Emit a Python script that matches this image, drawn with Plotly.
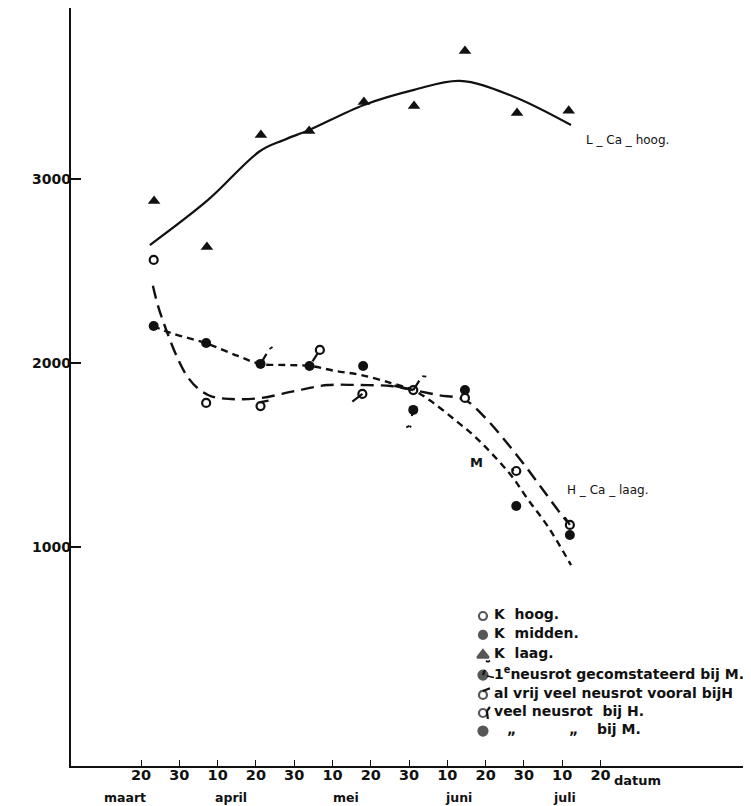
import plotly.graph_objects as go

# ---------------- data (x in days after 20 maart) ----------------
hoog_x = [3.3, 17.0, 31.2, 46.7, 57.8, 71.1, 84.6, 98.0, 112.0]
hoog_y = [2560, 1783, 1766, 2071, 1832, 1853, 1810, 1413, 1120]
midden_x = [3.3, 17.0, 31.2, 44.0, 58.0, 71.1, 84.6, 98.0, 112.0]
midden_y = [2201, 2109, 1995, 1984, 1984, 1745, 1853, 1223, 1065]
laag_x = [3.4, 17.2, 31.3, 43.9, 58.2, 71.3, 84.6, 98.2, 111.7]
laag_y = [2880, 2630, 3239, 3261, 3418, 3397, 3696, 3359, 3370]

# hand-drawn curves
L_curve_x = [2.3, 17.5, 31.1, 37.3, 43.9, 58.2, 71.3, 83.3, 96.9, 112.3]
L_curve_y = [2641, 2886, 3152, 3212, 3266, 3402, 3484, 3533, 3451, 3293]
H_curve_x = [3.1, 5.2, 12.3, 17.5, 23.5, 31.3, 40.2, 48.8, 57.4, 65.3, 71.0, 77.5, 84.6, 90.0, 95.0, 100.0, 105.0, 110.0, 112.8]
H_curve_y = [2420, 2260, 1920, 1826, 1804, 1810, 1848, 1880, 1880, 1875, 1853, 1826, 1799, 1700, 1580, 1450, 1310, 1170, 1100]
M_curve_x = [3.1, 7.8, 16.7, 25.3, 31.1, 37.6, 44.1, 50.7, 57.4, 65.3, 71.0, 75.7, 82.0, 87.2, 92.4, 97.0, 101.0, 106.3, 112.3]
M_curve_y = [2201, 2163, 2109, 2038, 1995, 1989, 1984, 1957, 1935, 1891, 1853, 1793, 1690, 1600, 1490, 1380, 1260, 1110, 902]

tick_days = [0, 10, 20, 30, 40, 50, 60, 70, 80, 90, 100, 110, 120]
tick_text = ["20", "30", "10", "20", "30", "10", "20", "30", "10", "20", "30", "10", "20"]
month_names = ["maart", "april", "mei", "juni", "juli"]
month_x = [-4.2, 23.5, 53.5, 82.8, 110.7]
y_ticks = [1000, 2000, 3000]

legend_labels = ["K  hoog.", "K  midden.", "K  laag.",
                 "1<sup>e</sup>neusrot gecomstateerd bij M.",
                 "al vrij veel neusrot vooral bijH",
                 "veel neusrot  bij H."]
legend_x = 89.3
legend_y = [625, 522, 413, 304, 196, 98, 0]

FONT = "DejaVu Sans"
INK = "#111111"

fig = go.Figure()

# curves
fig.add_trace(go.Scatter(x=L_curve_x, y=L_curve_y, mode="lines", line_shape="spline",
                         line=dict(color=INK, width=2.2), hoverinfo="skip"))
fig.add_trace(go.Scatter(x=H_curve_x, y=H_curve_y, mode="lines", line_shape="spline",
                         line=dict(color=INK, width=2.4, dash="13px,7px"), hoverinfo="skip"))
fig.add_trace(go.Scatter(x=M_curve_x, y=M_curve_y, mode="lines", line_shape="spline",
                         line=dict(color=INK, width=2.4, dash="7px,5px"), hoverinfo="skip"))

# data points
fig.add_trace(go.Scatter(x=laag_x, y=laag_y, mode="markers",
                         marker=dict(symbol="triangle-up", size=11, color=INK)))
fig.add_trace(go.Scatter(x=midden_x, y=midden_y, mode="markers",
                         marker=dict(symbol="circle", size=10, color=INK)))
fig.add_trace(go.Scatter(x=hoog_x, y=hoog_y, mode="markers",
                         marker=dict(symbol="circle", size=8, color="white",
                                     line=dict(color=INK, width=2.2))))

# legend markers
fig.add_trace(go.Scatter(x=[legend_x] * 7, y=legend_y, mode="markers",
                         marker=dict(symbol=["circle-open", "circle", "triangle-up", "circle",
                                             "circle", "circle", "circle"],
                                     size=[8, 8, 10, 9, 8, 8, 9],
                                     color=[INK, INK, INK, INK, "white", "white", INK],
                                     line=dict(color=INK, width=2.2))))

ann = []
def tail(x, y, ax, ay, xs=0, ys=0, w=2.2):
    ann.append(dict(x=x, y=y, xref="x", yref="y", ax=ax, ay=ay, xshift=xs, yshift=ys,
                    showarrow=True, arrowhead=0, arrowwidth=w, arrowcolor=INK, text=" "))

# neusrot marks on the data
tail(midden_x[2], midden_y[2], 9, -15)
tail(midden_x[2], midden_y[2], -3, -6, xs=9, ys=15, w=1.8)
tail(midden_x[2], midden_y[2], 6, -4, xs=9, ys=15, w=1.8)
tail(hoog_x[2], hoog_y[2], 11, -2, ys=4)
ann.append(dict(x=hoog_x[3], y=hoog_y[3], xref="x", yref="y", axref="x", ayref="y",
                ax=midden_x[3], ay=midden_y[3], showarrow=True, arrowhead=0,
                arrowwidth=2.2, arrowcolor=INK, text=" ", standoff=4))
tail(hoog_x[4], hoog_y[4], -13, 10)
tail(hoog_x[5], hoog_y[5], 9, -14)
tail(hoog_x[5], hoog_y[5], 7, 1, xs=9, ys=14, w=1.8)
tail(hoog_x[5], hoog_y[5], -22, -5, w=2.6)
tail(midden_x[5], midden_y[5], -4, 16)
tail(midden_x[5], midden_y[5], -6, 3, xs=-4, ys=-16, w=1.8)
tail(midden_x[5], midden_y[5], 5, 3, xs=-4, ys=-16, w=1.8)
tail(hoog_x[7], hoog_y[7], -4, -11, xs=-3)
tail(hoog_x[8], hoog_y[8], -8, -12)

# legend symbol tails
tail(legend_x, legend_y[3], 5, -13)
tail(legend_x, legend_y[3], -5, -3, xs=5, ys=13, w=1.8)
tail(legend_x, legend_y[3], 5, -4, xs=5, ys=13, w=1.8)
tail(legend_x, legend_y[3], 10, 2, xs=4, ys=-1, w=1.5)
tail(legend_x, legend_y[4], 10, -4, ys=4)
tail(legend_x, legend_y[5], 6, -8, xs=4, ys=2)
tail(legend_x, legend_y[5], 2, 18, xs=4, ys=2)

LEG_FONT = dict(family=FONT, size=14, color=INK, weight="bold")
# legend text
for lbl, yy in zip(legend_labels, legend_y[:6]):
    ann.append(dict(x=legend_x, y=yy, xref="x", yref="y", text=lbl, showarrow=False,
                    xanchor="left", xshift=9, yshift=2, font=LEG_FONT))
for txt, dx in [("\u201e", 22), ("\u201e", 84), ("bij M.", 112)]:
    ann.append(dict(x=legend_x, y=legend_y[6], xref="x", yref="y", text=txt, showarrow=False,
                    xanchor="left", xshift=dx, yshift=2, font=LEG_FONT))

# curve labels
ann.append(dict(x=115.7, y=3212, xref="x", yref="y", text="L _ Ca _ hoog.", showarrow=False,
                xanchor="left", font=dict(family=FONT, size=12, color=INK)))
ann.append(dict(x=110.7, y=1310, xref="x", yref="y", text="H _ Ca _ laag.", showarrow=False,
                xanchor="left", font=dict(family=FONT, size=12, color=INK)))
ann.append(dict(x=87.5, y=1457, xref="x", yref="y", text="M", showarrow=False,
                font=dict(family=FONT, size=13, color=INK, weight="bold")))

# y tick labels, right edge touching the axis
for v in y_ticks:
    ann.append(dict(x=0, y=v, xref="paper", yref="y", text=str(v), showarrow=False,
                    xanchor="right", yanchor="middle", xshift=1, borderpad=0,
                    font=dict(family=FONT, size=14, color=INK, weight="bold")))

# month names and 'datum'
for m, mx in zip(month_names, month_x):
    ann.append(dict(x=mx, y=0, xref="x", yref="paper", text=m, showarrow=False,
                    yanchor="middle", yshift=-31, borderpad=0,
                    font=dict(family=FONT, size=12.5, color=INK, weight="bold")))
ann.append(dict(x=123.2, y=0, xref="x", yref="paper", text="datum", showarrow=False,
                xanchor="left", yanchor="middle", yshift=-14, borderpad=0,
                font=dict(family=FONT, size=13, color=INK, weight="bold")))

fig.update_layout(
    width=751, height=806,
    margin=dict(l=63, r=0, t=0, b=48),
    paper_bgcolor="white", plot_bgcolor="white",
    showlegend=False,
    annotations=ann,
    xaxis=dict(range=[-18.3, 161.4], showgrid=False, zeroline=False,
               showline=True, linecolor=INK, linewidth=1.6,
               ticks="inside", ticklen=6, tickwidth=1.3, tickcolor=INK,
               tickvals=tick_days, ticktext=tick_text, ticklabelstandoff=-5,
               tickfont=dict(family=FONT, size=14.5, color=INK, weight="bold")),
    yaxis=dict(range=[-190, 3929], showgrid=False, zeroline=False,
               showline=True, linecolor=INK, linewidth=1.6,
               ticks="inside", ticklen=10, tickwidth=1.6, tickcolor=INK,
               tickvals=y_ticks, showticklabels=False),
)

fig.write_html("out.html")
